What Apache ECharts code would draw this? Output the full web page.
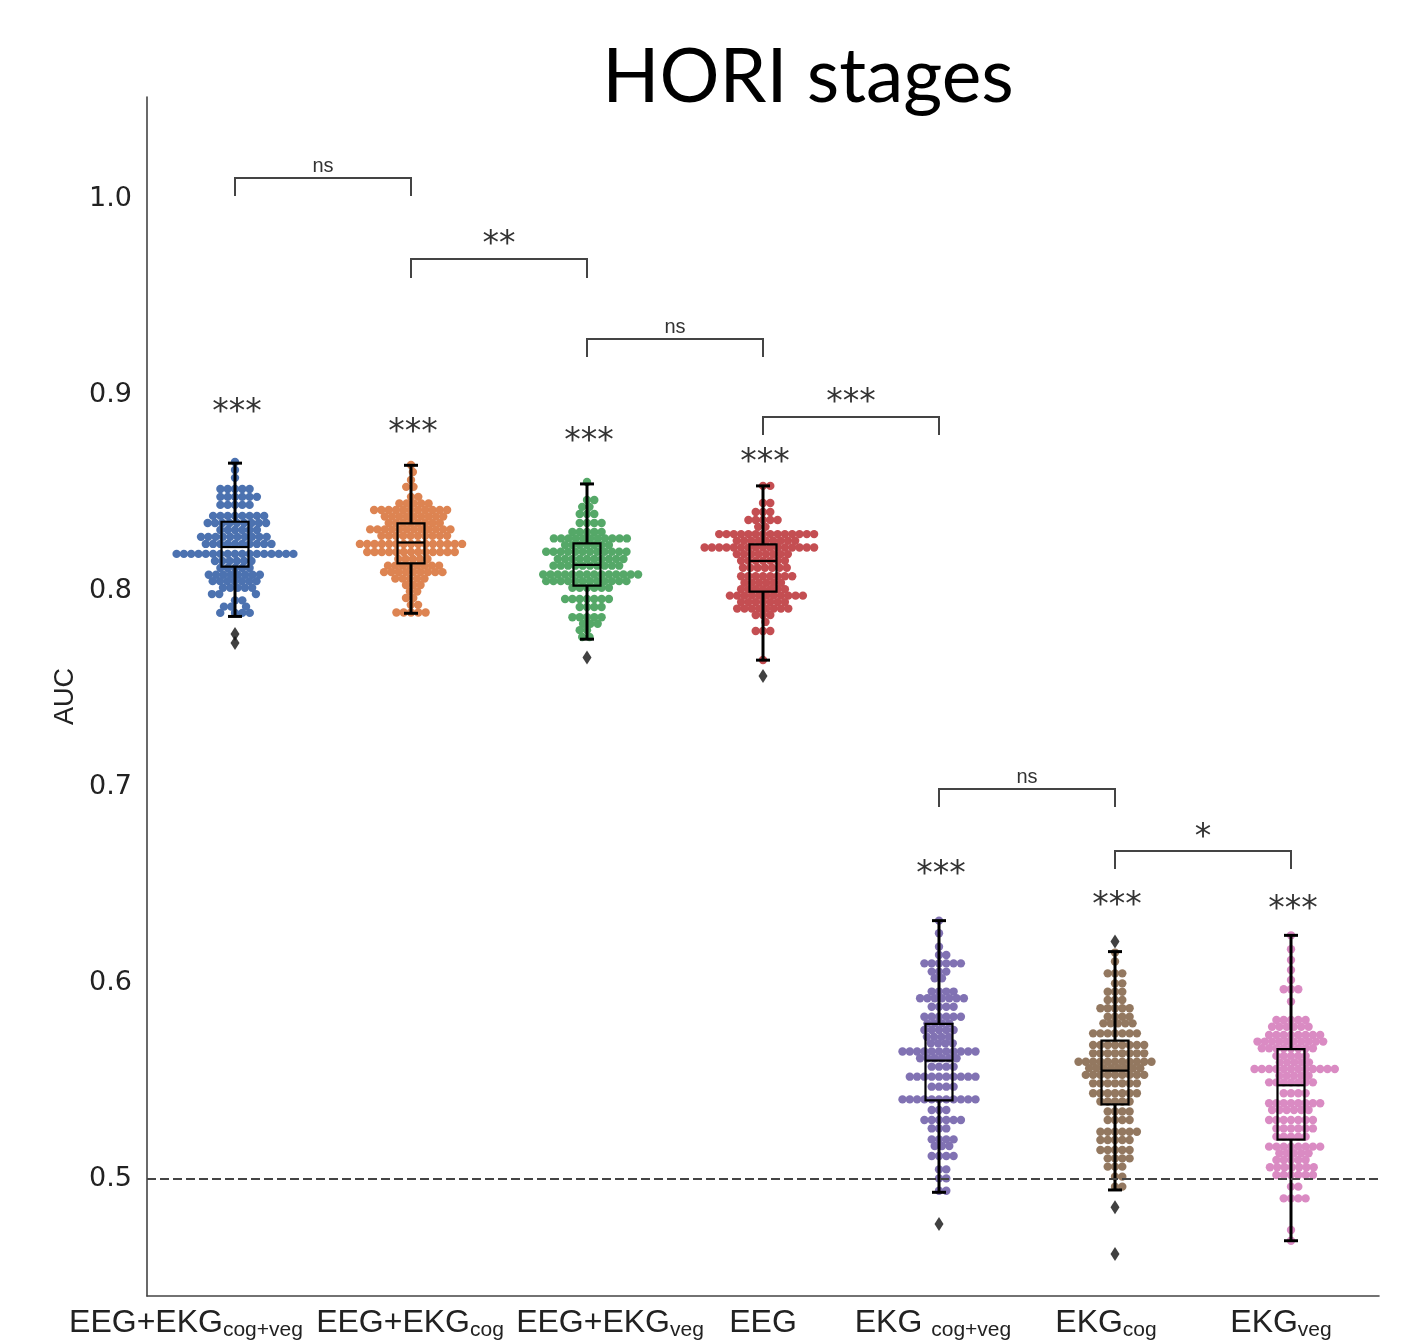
<!DOCTYPE html>
<html><head><meta charset="utf-8">
<script src="https://cdn.jsdelivr.net/npm/echarts@6/dist/echarts.min.js"></script>
<style>html,body{margin:0;padding:0;background:#fff}#c{width:1415px;height:1343px}</style>
</head><body><div id="c"></div>
<script>
// ---------- DATA ----------
const categoryMain = ['EEG+EKG', 'EEG+EKG', 'EEG+EKG', 'EEG', 'EKG ', 'EKG', 'EKG'];
const categorySub  = ['cog+veg', 'cog', 'veg', '', 'cog+veg', 'cog', 'veg'];
const yTickValues = [0.5, 0.6, 0.7, 0.8, 0.9, 1.0];

// swarm rows: [AUC value, number of points at that value]
const rowsEEGEKGcogveg = [[0.8658,1],[0.8617,1],[0.8577,1],[0.8520,5],[0.8480,6],[0.8439,5],[0.8383,8],[0.8347,9],[0.8311,6],[0.8276,10],[0.8240,10],[0.8189,17],[0.8153,6],[0.8117,5],[0.8083,8],[0.8050,7],[0.8016,5],[0.7984,3],[0.7952,2],[0.7920,3],[0.7888,4]];
const rowsEEGEKGcog = [[0.8643,1],[0.8607,1],[0.8566,1],[0.8531,2],[0.8480,2],[0.8446,5],[0.8413,11],[0.8380,9],[0.8347,8],[0.8314,12],[0.8281,10],[0.8240,15],[0.8199,13],[0.8163,5],[0.8129,8],[0.8096,9],[0.8063,5],[0.8030,3],[0.7997,2],[0.7964,2],[0.7929,2],[0.7890,5]];
const rowsEEGEKGveg = [[0.8556,1],[0.8464,2],[0.8429,2],[0.8393,3],[0.8347,4],[0.8301,5],[0.8268,11],[0.8234,7],[0.8200,12],[0.8163,10],[0.8129,10],[0.8084,14],[0.8050,12],[0.8016,6],[0.7959,7],[0.7918,4],[0.7866,5],[0.7833,3],[0.7800,2],[0.7765,2]];
const rowsEEG = [[0.8536,2],[0.8449,2],[0.8403,3],[0.8362,5],[0.8327,2],[0.8290,14],[0.8256,9],[0.8222,16],[0.8188,8],[0.8154,7],[0.8118,7],[0.8075,8],[0.8042,6],[0.8009,7],[0.7976,11],[0.7943,7],[0.7910,8],[0.7877,3],[0.7842,1],[0.7796,3],[0.7648,1]];
const rowsEKGcogveg = [[0.6318,1],[0.6254,1],[0.6185,1],[0.6143,2],[0.6100,6],[0.6058,3],[0.6024,2],[0.5956,4],[0.5922,7],[0.5879,4],[0.5828,6],[0.5794,4],[0.5760,5],[0.5725,4],[0.5692,4],[0.5650,11],[0.5616,6],[0.5573,4],[0.5522,10],[0.5471,4],[0.5406,11],[0.5352,3],[0.5301,6],[0.5258,3],[0.5202,4],[0.5168,3],[0.5117,4],[0.5049,2],[0.5003,2],[0.4940,2]];
const rowsEKGcog = [[0.6155,1],[0.6110,1],[0.6049,3],[0.5998,2],[0.5955,3],[0.5913,3],[0.5871,5],[0.5828,4],[0.5794,5],[0.5743,7],[0.5684,8],[0.5641,8],[0.5598,11],[0.5565,8],[0.5531,9],[0.5488,7],[0.5437,7],[0.5395,5],[0.5344,4],[0.5301,4],[0.5241,6],[0.5199,5],[0.5148,5],[0.5105,4],[0.5063,3],[0.5012,2],[0.4961,2]];
const rowsEKGveg = [[0.6243,1],[0.6172,1],[0.6117,1],[0.6066,1],[0.6015,1],[0.5968,3],[0.5905,1],[0.5811,5],[0.5777,6],[0.5735,8],[0.5701,10],[0.5667,8],[0.5628,5],[0.5595,5],[0.5561,12],[0.5527,5],[0.5493,7],[0.5437,4],[0.5386,8],[0.5352,6],[0.5301,7],[0.5258,6],[0.5216,5],[0.5165,8],[0.5131,5],[0.5097,5],[0.5060,7],[0.5020,6],[0.4961,2],[0.4901,4],[0.4740,1],[0.4685,1]];

// box stats: [whisker low, Q1, median, Q3, whisker high]
const boxStats = [
  [0.7870, 0.8124, 0.8224, 0.8353, 0.8652],
  [0.7886, 0.8141, 0.8247, 0.8345, 0.8641],
  [0.7754, 0.8027, 0.8133, 0.8243, 0.8546],
  [0.7647, 0.7997, 0.8153, 0.8238, 0.8536],
  [0.4932, 0.5401, 0.5604, 0.5791, 0.6318],
  [0.4944, 0.5381, 0.5553, 0.5706, 0.6160],
  [0.4685, 0.5201, 0.5478, 0.5662, 0.6243]
];
const outlierValues = [[0.7780, 0.7735], [], [0.7660], [0.7566], [0.4770], [0.6211, 0.4856, 0.4617], []];

// significance vs chance, per group
const groupSigText = ['***', '***', '***', '***', '***', '***', '***'];
const groupSigValue = [0.8949, 0.8847, 0.8801, 0.8689, 0.6587, 0.6429, 0.6413];

// pairwise comparison brackets
const bracketPairs = [[0,1],[1,2],[2,3],[3,4],[4,5],[5,6]];
const bracketTopValue = [1.0107, 0.9694, 0.9286, 0.8888, 0.6990, 0.6673];
const bracketLegValue = [1.0015, 0.9597, 0.9194, 0.8796, 0.6898, 0.6582];
const bracketText = ['ns', '**', 'ns', '***', 'ns', '*'];

const chanceLevel = 0.5;

// ---------- STYLE ----------
const groupRows = [rowsEEGEKGcogveg, rowsEEGEKGcog, rowsEEGEKGveg, rowsEEG, rowsEKGcogveg, rowsEKGcog, rowsEKGveg];
const colors = ['#4c72b0', '#dd8452', '#55a868', '#c44e52', '#8172b3', '#937860', '#da8bc3'];
const labelShift = [-49, -1, 23, -1, -6, -9, -10];
const Y_MIN = 0.4403, Y_MAX = 1.0520;
const DOT_SPACING = 7.3;
const DOT_SIZE = 8.4;

const chart = echarts.init(document.getElementById('c'), null, {renderer: 'canvas'});

const rich = {};
categoryMain.forEach((m, i) => {
  const s = labelShift[i];
  rich['m' + i] = {fontFamily: 'Liberation Sans', fontSize: 32, lineHeight: 36, color: '#222',
    padding: [0, 0, 0, s > 0 ? 2 * s : 0]};
  rich['s' + i] = {fontFamily: 'Liberation Sans', fontSize: 21, lineHeight: 21, color: '#222',
    verticalAlign: 'top', padding: [15, s < 0 ? -2 * s : 0, 0, 0]};
});

const base = {
  animation: false,
  backgroundColor: '#fff',
  grid: {left: 147, right: 36, top: 97, bottom: 47, containLabel: false},
  xAxis: [
    {type: 'category', data: categoryMain.map((m, i) => String(i)),
     axisLine: {show: true, onZero: false, lineStyle: {color: '#444', width: 1.6}},
     axisTick: {show: false}, splitLine: {show: false},
     axisLabel: {margin: 9, interval: 0,
       formatter: (v, i) => '{m' + i + '|' + categoryMain[i] + '}' + (categorySub[i] ? '{s' + i + '|' + categorySub[i] + '}' : ''),
       rich: rich}},
    {type: 'value', min: -0.5, max: 6.5, show: false}
  ],
  yAxis: {type: 'value', min: Y_MIN, max: Y_MAX,
    name: 'AUC', nameLocation: 'middle', nameGap: 68, nameMoveOverlap: false,
    nameTextStyle: {fontFamily: 'Liberation Sans', fontSize: 27, color: '#222'},
    axisLine: {show: true, onZero: false, lineStyle: {color: '#444', width: 1.6}},
    axisTick: {show: false}, splitLine: {show: false},
    axisLabel: {customValues: yTickValues, formatter: v => v.toFixed(1),
      fontFamily: 'DejaVu Sans', fontSize: 27, color: '#222', margin: 15, padding: [6, 0, 0, 0]}},
  graphic: [{type: 'text', x: 808, y: 78,
    style: {text: 'HORI stages', fontFamily: 'Lato', fontSize: 75, fill: '#000', align: 'center', verticalAlign: 'middle'}}],
  series: []
};
chart.setOption(base);

// beeswarm layout in pixel space
function swarm(ysPx, d) {
  const order = ysPx.map((y, i) => i).sort((a, b) => ysPx[a] - ysPx[b]);
  const placed = [];
  const xs = new Array(ysPx.length);
  for (const i of order) {
    const y = ysPx[i];
    const neigh = placed.filter(p => Math.abs(p.y - y) < d);
    const cands = [0];
    for (const p of neigh) {
      const dx = Math.sqrt(d * d - (p.y - y) * (p.y - y));
      cands.push(p.x + dx, p.x - dx);
    }
    cands.sort((a, b) => Math.abs(a) - Math.abs(b));
    let x = 0;
    for (const c of cands) {
      if (neigh.every(p => (p.x - c) * (p.x - c) + (p.y - y) * (p.y - y) >= d * d - 1e-3)) { x = c; break; }
    }
    placed.push({x, y});
    xs[i] = x;
  }
  return xs;
}

const pxPerX = chart.convertToPixel({xAxisIndex: 1}, 1) - chart.convertToPixel({xAxisIndex: 1}, 0);
const series = [];
groupRows.forEach((rows, g) => {
  const vals = [];
  rows.forEach(r => { for (let k = 0; k < r[1]; k++) vals.push(r[0]); });
  const ys = vals.map(v => chart.convertToPixel({yAxisIndex: 0}, v));
  const xs = swarm(ys, DOT_SPACING);
  series.push({type: 'scatter', xAxisIndex: 1, yAxisIndex: 0, symbol: 'circle', symbolSize: DOT_SIZE,
    itemStyle: {color: colors[g], opacity: 1}, z: 2, silent: true,
    data: vals.map((v, k) => [g + xs[k] / pxPerX, v])});
});

series[0].markLine = {silent: true, symbol: ['none', 'none'], label: {show: false}, z: 10,
  lineStyle: {type: [9, 4], color: '#444', width: 1.8},
  data: [{yAxis: chanceLevel}]};

series.push({type: 'custom', xAxisIndex: 1, yAxisIndex: 0, z: 5, silent: true,
  data: boxStats.map((b, i) => [i, b[0], b[1], b[2], b[3], b[4]]),
  encode: {x: 0, y: [1, 2, 3, 4, 5]},
  renderItem: (params, api) => {
    const i = api.value(0);
    const lo = api.coord([i, api.value(1)]), q1 = api.coord([i, api.value(2)]),
          md = api.coord([i, api.value(3)]), q3 = api.coord([i, api.value(4)]),
          hi = api.coord([i, api.value(5)]);
    const x = lo[0], bw = 27, cw = 14;
    const wh = {stroke: '#000', lineWidth: 3};
    const bx = {stroke: '#000', lineWidth: 2.2, fill: 'none'};
    return {type: 'group', children: [
      {type: 'line', shape: {x1: x, y1: q3[1], x2: x, y2: hi[1]}, style: wh},
      {type: 'line', shape: {x1: x, y1: q1[1], x2: x, y2: lo[1]}, style: wh},
      {type: 'line', shape: {x1: x - cw / 2, y1: hi[1], x2: x + cw / 2, y2: hi[1]}, style: wh},
      {type: 'line', shape: {x1: x - cw / 2, y1: lo[1], x2: x + cw / 2, y2: lo[1]}, style: wh},
      {type: 'rect', shape: {x: x - bw / 2, y: q3[1], width: bw, height: q1[1] - q3[1]}, style: bx},
      {type: 'line', shape: {x1: x - bw / 2, y1: md[1], x2: x + bw / 2, y2: md[1]}, style: {stroke: '#000', lineWidth: 2.2}}
    ]};
  }});

const outData = [];
outlierValues.forEach((arr, g) => arr.forEach(v => outData.push([g, v])));
series.push({type: 'scatter', xAxisIndex: 1, yAxisIndex: 0, symbol: 'diamond', symbolSize: [9, 14],
  itemStyle: {color: '#111'}, z: 6, silent: true, data: outData});

series.push({type: 'custom', xAxisIndex: 1, yAxisIndex: 0, z: 7, silent: true,
  data: groupSigValue.map((v, i) => [i, v]),
  renderItem: (params, api) => {
    const p = api.coord([api.value(0), api.value(1)]);
    return {type: 'text', x: p[0] + 2, y: p[1] + 8,
      style: {text: groupSigText[params.dataIndex], fontFamily: 'DejaVu Sans', fontSize: 33, fill: '#333', align: 'center', verticalAlign: 'middle'}};
  }});

series.push({type: 'custom', xAxisIndex: 1, yAxisIndex: 0, z: 7, silent: true,
  data: bracketPairs.map((p, k) => [p[0], bracketTopValue[k]]),
  renderItem: (params, api) => {
    const k = params.dataIndex;
    const a = bracketPairs[k][0], b = bracketPairs[k][1];
    const t1 = api.coord([a, bracketTopValue[k]]), t2 = api.coord([b, bracketTopValue[k]]);
    const l1 = api.coord([a, bracketLegValue[k]]), l2 = api.coord([b, bracketLegValue[k]]);
    const txt = bracketText[k];
    const isNs = txt === 'ns';
    const mid = (t1[0] + t2[0]) / 2;
    return {type: 'group', children: [
      {type: 'polyline', shape: {points: [l1, t1, t2, l2]}, style: {stroke: '#444', lineWidth: 2, fill: null}},
      {type: 'text', x: mid, y: isNs ? t1[1] - 11 : t1[1] - 13,
       style: {text: txt, fontFamily: isNs ? 'Liberation Sans' : 'DejaVu Sans', fontSize: isNs ? 20 : 33,
         fill: '#333', align: 'center', verticalAlign: 'middle'}}
    ]};
  }});

chart.setOption({series: series});
</script></body></html>
